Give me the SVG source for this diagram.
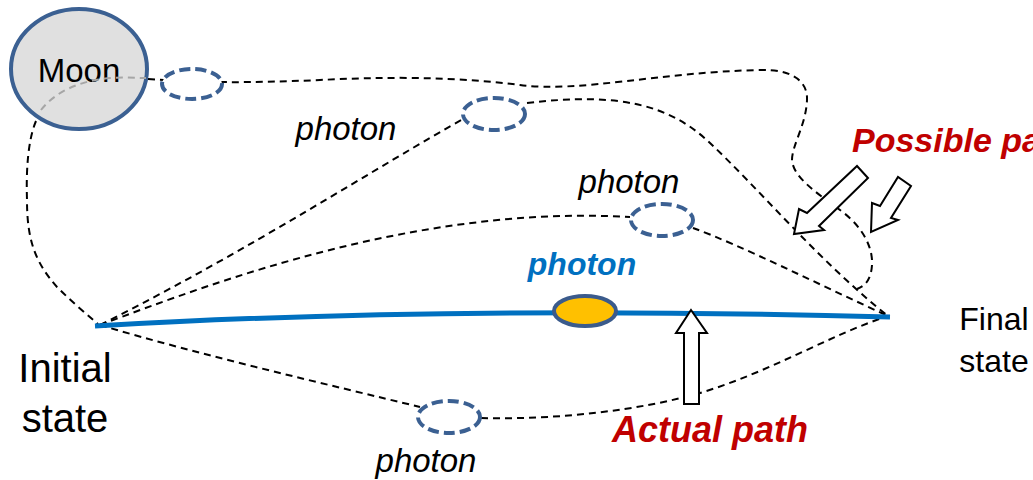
<svg xmlns="http://www.w3.org/2000/svg" width="1033" height="480" viewBox="0 0 1033 480">
<style>
.path{fill:none;stroke:#000;stroke-width:2;stroke-dasharray:7 5}
.gray{fill:none;stroke:#a6a6a6;stroke-width:2;stroke-dasharray:7 5}
.ph{fill:#fff;stroke:#3b6092;stroke-width:4;stroke-dasharray:11 5}
.lbl{font-family:"Liberation Sans",Arial,sans-serif;font-style:italic;font-size:33px;fill:#000}
.txt{font-family:"Liberation Sans",Arial,sans-serif;fill:#000}
.red{font-family:"Liberation Sans",Arial,sans-serif;font-style:italic;font-weight:bold;fill:#c00000}
.arrow{fill:#fff;stroke:#000;stroke-width:2;stroke-linejoin:miter}
</style>
<g id="moon">
<ellipse cx="79" cy="69" rx="68" ry="60" fill="#e0e0e0" stroke="#3b6092" stroke-width="4"/>
<text class="txt" x="79" y="82" font-size="33" text-anchor="middle">Moon</text>
</g>
<g id="connectors">
<path class="gray" d="M41,110 C55,92 80,80 112,78 C125,77 135,78 146,78"/>
<path class="path" d="M36,121 C28,140 26,170 27,200 C27,240 35,262 57,287 C70,300 85,313 98,324"/>
<path class="path" d="M148,79 C200,83 250,83 320,80 C380,77 450,76 520,85 C580,93 660,72 760,70 C790,69 808,80 807,100 C806,125 792,145 792,160 C793,178 820,195 840,210 C865,228 873,250 872,265 C871,280 865,286 857,289"/>
<path class="path" d="M100,325 C250,250 380,165 465,118"/>
<path class="path" d="M527,103 C620,92 670,105 710,143 C760,190 820,262 888,316"/>
<path class="path" d="M100,325 C220,280 420,205 630,217"/>
<path class="path" d="M693,228 C740,245 820,285 888,316"/>
<path class="path" d="M100,325 C200,355 330,385 420,407"/>
<path class="path" d="M481,418 C560,420 640,410 700,393 C770,372 830,335 888,316"/>
<path d="M95,326 Q450,305 890,317" fill="none" stroke="#0070c0" stroke-width="5"/>
</g>
<g id="photon-a"><ellipse class="ph" cx="192" cy="84" rx="30" ry="15"/></g>
<g id="photon-b"><ellipse class="ph" cx="494" cy="114" rx="31" ry="16"/>
<text class="lbl" x="346" y="140" text-anchor="middle">photon</text></g>
<g id="photon-c"><ellipse class="ph" cx="662" cy="220" rx="31" ry="16"/>
<text class="lbl" x="629" y="193" text-anchor="middle">photon</text></g>
<g id="photon-d"><ellipse class="ph" cx="449" cy="417" rx="31" ry="16"/>
<text class="lbl" x="426" y="472" text-anchor="middle">photon</text></g>
<g id="photon-actual"><ellipse cx="585" cy="311" rx="31" ry="15" fill="#ffc000" stroke="#3b5b8c" stroke-width="4"/>
<text class="red" x="582" y="275" font-size="32" text-anchor="middle" style="fill:#0070c0">photon</text></g>
<g id="initial-state">
<text class="txt" x="65" y="382" font-size="40" text-anchor="middle">Initial</text>
<text class="txt" x="65" y="432" font-size="40" text-anchor="middle">state</text>
</g>
<g id="final-state">
<text class="txt" x="994" y="330" font-size="32" text-anchor="middle">Final</text>
<text class="txt" x="994" y="372" font-size="32" text-anchor="middle">state</text>
</g>
<g id="actual-path">
<polygon class="arrow" points="691,310 707,333 699,333 699,404 684,404 684,333 676,333"/>
<text class="red" x="612" y="442" font-size="36">Actual path</text>
</g>
<g id="possible-paths">
<polygon class="arrow" points="794,234 799,209 807,213 857,166 868,178 819,226 824,230"/>
<polygon class="arrow" points="871,232 872,203 880,206 898,177 911,186 891,218 898,220"/>
<text class="red" x="852" y="152" font-size="34">Possible pa</text>
</g>
</svg>
